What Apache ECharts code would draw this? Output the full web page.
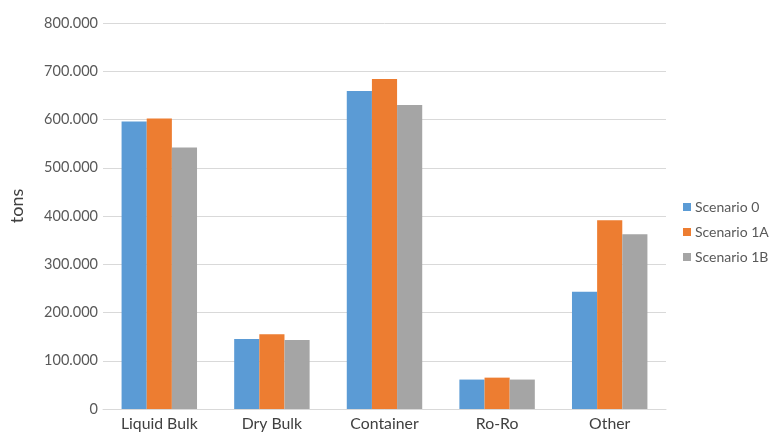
<!DOCTYPE html>
<html><head><meta charset="utf-8">
<script src="https://cdn.jsdelivr.net/npm/echarts@6/dist/echarts.min.js"></script>
<style>html,body{margin:0;padding:0;background:#fff}#c{width:769px;height:434px}</style>
</head><body><div id="c"></div>
<script>
const categories = ['Liquid Bulk', 'Dry Bulk', 'Container', 'Ro-Ro', 'Other'];
const scenario0 = [596000, 145000, 659000, 61000, 243000];
const scenario1A = [602000, 155000, 684000, 65000, 391000];
const scenario1B = [542000, 143000, 630000, 61000, 362000];
const seriesNames = ['Scenario 0', 'Scenario 1A', 'Scenario 1B'];
const colors = ['#5B9BD5', '#ED7D31', '#A5A5A5'];
const font = 'Lato, "Open Sans", sans-serif';
const fmt = v => String(v).replace(/\B(?=(\d{3})+(?!\d))/g, '.');
const chart = echarts.init(document.getElementById('c'));
const mk = (name, data, i) => ({
  name, type: 'bar', data, barGap: '0%', barCategoryGap: '33%',
  itemStyle: { color: colors[i] }
});
chart.setOption({
  animation: false,
  textStyle: { fontFamily: font },
  grid: { left: 100, right: 103, top: 23, bottom: 25, containLabel: false },
  legend: {
    orient: 'vertical', left: 678, top: 195, itemWidth: 8, itemHeight: 8, itemGap: 11,
    icon: 'rect',
    textStyle: { fontFamily: font, fontSize: 14, color: '#595959', padding: [0, 0, 0, -1] },
    data: seriesNames
  },
  xAxis: {
    type: 'category', data: categories,
    axisLine: { lineStyle: { color: '#D9D9D9' } },
    axisTick: { show: false },
    axisLabel: { fontFamily: font, fontSize: 15.8, color: '#404040', margin: 7 }
  },
  yAxis: {
    type: 'value', min: 0, max: 800000, interval: 100000,
    name: 'tons', nameLocation: 'middle', nameGap: 77, nameRotate: 90,
    nameTextStyle: { fontFamily: font, fontSize: 18, color: '#404040', padding: [0, 0, 0, 20] },
    axisLine: { show: false }, axisTick: { show: false },
    splitLine: { lineStyle: { color: '#D9D9D9' } },
    axisLabel: { fontFamily: font, fontSize: 14.5, color: '#595959', margin: 5, formatter: fmt }
  },
  series: [mk(seriesNames[0], scenario0, 0), mk(seriesNames[1], scenario1A, 1), mk(seriesNames[2], scenario1B, 2)]
});
</script></body></html>
